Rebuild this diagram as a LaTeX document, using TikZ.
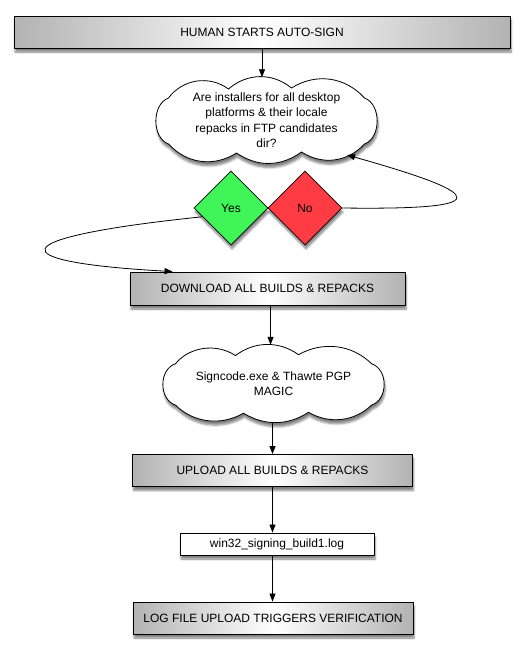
\documentclass[tikz,border=0pt]{standalone}
\usepackage{fontspec}
\setmainfont{Liberation Sans}
\usetikzlibrary{shapes.geometric,arrows.meta,shadows.blur,calc}
\newcommand\mycloud[2]{%
  \draw[cloudline, shift={(#1)}, yscale=#2]
    (-98,-22) to[bend left=45] (-38,-31) to[bend left=40] (25,-32)
    to[bend left=40] (98,-22) to[bend left=70] (98,24)
    to[bend left=40] (35,32) to[bend left=35] (-30,33)
    to[bend left=40] (-98,24) to[bend left=70] (-98,-22) -- cycle;}
\begin{document}
\begin{tikzpicture}[x=1pt,y=-1pt,
  txt/.style={font=\fontsize{12}{15.5}\selectfont, text=black},
  shad/.style={blur shadow={shadow xshift=1pt, shadow yshift=-4pt, shadow blur steps=6, shadow opacity=50}},
  gbox/.style={txt, draw=black, line width=0.9pt, rectangle, inner sep=0pt,
     left color=black!30, right color=black!30, middle color=white, shad},
  wbox/.style={txt, draw=black, line width=0.9pt, rectangle, inner sep=0pt, fill=white, shad},
  cl/.style={txt, align=center, rectangle, inner sep=0pt},
  cloudline/.style={draw=black, line width=0.8pt, fill=white, line join=round, shad},
  dia/.style={txt, diamond, draw=black, line width=0.8pt, inner sep=0pt,
     minimum width=74, minimum height=74, shad},
  arr/.style={draw=black, line width=0.8pt, -{Triangle[length=8pt,width=6pt]}}
]
\useasboundingbox (0,0) rectangle (531,651);

\mycloud{266.5,120}{1}
\mycloud{273.5,383.5}{0.9}

\node[gbox, minimum width=496, minimum height=32] (top) at (262,32) {HUMAN STARTS AUTO-SIGN};
\node[cl, minimum width=222, minimum height=85] (q) at (266.5,120)
  {Are installers for all desktop\\platforms \& their locale\\repacks in FTP candidates\\dir?};
\node[dia, fill={rgb,255:red,64;green,245;blue,88}] (yes) at (231,208) {Yes};
\node[dia, fill={rgb,255:red,255;green,59;blue,68}] (no) at (305,208) {No};
\node[gbox, minimum width=275, minimum height=33] (dl) at (267.5,288.5) {DOWNLOAD ALL BUILDS \& REPACKS};
\node[cl, minimum width=222, minimum height=77] (m) at (273.5,383.5)
  {Signcode.exe \& Thawte PGP\\MAGIC};
\node[gbox, minimum width=280, minimum height=32] (up) at (272.5,470.5) {UPLOAD ALL BUILDS \& REPACKS};
\node[wbox, minimum width=194, minimum height=22] (log) at (277,544) {win32\_signing\_build1.log};
\node[gbox, minimum width=280, minimum height=32] (fin) at (273,618) {LOG FILE UPLOAD TRIGGERS VERIFICATION};

\coordinate (dlin) at ($(dl.north west)+(43,0)$);
\coordinate (dlout) at ($(dl.south west)+(141,0)$);
\coordinate (qin) at (347,155);

\draw[arr] (top.south) -- (top.south |- q.north);
\draw[arr] (no.east) .. controls (493,210) and (493,196) .. (qin);
\draw[arr] (yes.197) .. controls (-2,238) and (0,262) .. (dlin);
\draw[arr] (dlout) -- (dlout |- m.north);
\draw[arr] (m.south -| up.south) -- (up.north);
\draw[arr] (up.south) -- (up.south |- log.north);
\draw[arr] (up.south |- log.south) -- (up.south |- fin.north);
\end{tikzpicture}
\end{document}
